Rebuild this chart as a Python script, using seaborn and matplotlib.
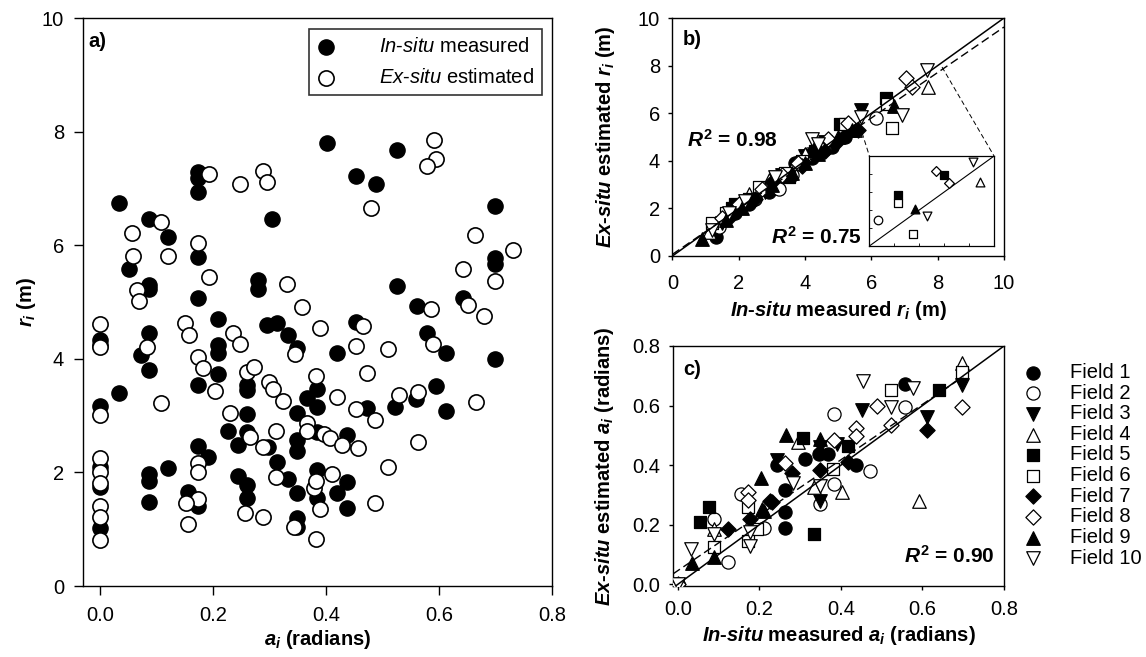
import matplotlib
matplotlib.use('Agg')
import matplotlib.pyplot as plt
import seaborn as sns
import numpy as np

# panel a: in-situ / ex-situ (a_i, r_i)
a_insitu = [0.034, 0.087, 0.121, 0.052, 0.087, 0.087, 0.174, 0.174, 0.174, 0.174, 0.174, 0.209,
            0.305, 0.279, 0.279, 0.401, 0.454, 0.488, 0.296, 0.314, 0.454, 0.525, 0.699, 0.699,
            0.699, 0.525, 0.561, 0.642, 0.579, 0.419, 0.612, 0.699, 0.0, 0.0, 0.0, 0.0, 0.0, 0.0,
            0.034, 0.073, 0.087, 0.087, 0.087, 0.087, 0.087, 0.121, 0.174, 0.174, 0.192, 0.156,
            0.174, 0.209, 0.209, 0.209, 0.261, 0.261, 0.261, 0.261, 0.227, 0.245, 0.245, 0.261,
            0.261, 0.332, 0.348, 0.366, 0.385, 0.385, 0.349, 0.349, 0.349, 0.314, 0.332, 0.385,
            0.349, 0.385, 0.349, 0.349, 0.438, 0.438, 0.419, 0.438, 0.385, 0.472, 0.595, 0.523,
            0.559, 0.612, 0.297]
r_insitu = [6.74, 6.47, 6.14, 5.59, 5.30, 5.23, 7.29, 7.18, 6.93, 5.80, 5.07, 4.70,
            6.46, 5.39, 5.23, 7.80, 7.22, 7.08, 4.60, 4.63, 4.65, 7.68, 6.69, 5.77,
            5.67, 5.28, 4.93, 5.07, 4.45, 4.10, 4.10, 4.00, 4.33, 4.24, 3.17, 2.10, 1.74, 1.02,
            3.40, 4.07, 4.46, 3.80, 1.97, 1.85, 1.48, 2.08, 3.54, 2.46, 2.27, 1.66,
            1.41, 4.24, 4.10, 3.73, 3.54, 3.45, 3.03, 2.71, 2.73, 2.48, 1.94, 1.78,
            1.55, 4.42, 4.19, 3.31, 3.47, 3.15, 3.05, 2.57, 2.38, 2.18, 1.88, 2.04,
            1.64, 1.55, 1.20, 1.04, 2.66, 1.83, 1.64, 1.37, 2.71, 3.13, 3.52, 3.15,
            3.29, 3.08, 2.45]
a_exsitu = [0.0, 0.056, 0.059, 0.065, 0.069, 0.108, 0.120, 0.193, 0.174, 0.193, 0.151, 0.247,
            0.289, 0.296, 0.331, 0.358, 0.479, 0.39, 0.466, 0.591, 0.594, 0.579, 0.664, 0.731,
            0.642, 0.699, 0.586, 0.651, 0.680, 0.454, 0.509, 0.589, 0.0, 0.0, 0.0, 0.0, 0.0,
            0.0, 0.0, 0.0, 0.083, 0.108, 0.158, 0.174, 0.183, 0.204, 0.174, 0.174, 0.174, 0.153,
            0.156, 0.236, 0.247, 0.261, 0.273, 0.231, 0.266, 0.257, 0.289, 0.289, 0.300, 0.306,
            0.324, 0.312, 0.312, 0.367, 0.367, 0.345, 0.383, 0.396, 0.407, 0.379, 0.383, 0.410,
            0.390, 0.343, 0.383, 0.419, 0.428, 0.454, 0.457, 0.473, 0.487, 0.487, 0.529, 0.562,
            0.666, 0.562, 0.509]
r_exsitu = [4.61, 6.21, 5.81, 5.21, 5.02, 6.41, 5.81, 7.25, 6.04, 5.44, 4.63, 7.08,
            7.31, 7.11, 5.31, 4.92, 6.65, 4.54, 4.58, 7.85, 7.52, 7.39, 6.18, 5.92,
            5.58, 5.37, 4.88, 4.95, 4.75, 4.23, 4.17, 4.26, 4.21, 3.01, 2.25, 2.01, 1.81,
            1.41, 1.21, 0.81, 4.21, 3.22, 4.42, 4.03, 3.84, 3.43, 2.17, 2.01, 1.53, 1.46,
            1.09, 4.45, 4.26, 3.77, 3.86, 3.05, 2.63, 1.29, 1.22, 2.45, 3.59, 3.47,
            3.26, 2.73, 1.92, 2.87, 2.73, 4.08, 3.70, 2.68, 2.61, 1.73, 1.85, 1.97,
            1.36, 1.04, 0.83, 3.33, 2.48, 3.12, 2.43, 3.75, 2.92, 1.46, 3.36, 3.41,
            3.24, 2.54, 2.10]

field_labels = ['Field 1', 'Field 2', 'Field 3', 'Field 4', 'Field 5',
                'Field 6', 'Field 7', 'Field 8', 'Field 9', 'Field 10']
field_markers = ['o', 'o', 'v', '^', 's', 's', 'D', 'D', '^', 'v']
field_filled = [True, False, True, False, True, False, True, False, True, False]

# panel b: r_i measured vs estimated, per field
rb_in = [[1.3, 1.9, 2.3, 2.9, 3.1, 3.7, 4.2, 4.5, 4.8, 5.2],
         [1.4, 2.0, 2.5, 3.2, 3.6, 4.1, 4.6, 6.14],
         [1.5, 2.0, 2.8, 3.3, 4.0, 4.6, 5.2, 5.69],
         [1.1, 2.3, 2.9, 3.7, 4.0, 4.5, 5.5, 7.71],
         [1.8, 1.9, 2.3, 3.5, 4.3, 5.04, 6.44],
         [1.2, 1.6, 2.6, 3.4, 3.9, 5.2, 6.47, 6.63],
         [1.7, 2.1, 2.5, 3.0, 3.9, 4.3, 4.6, 4.9, 5.6],
         [1.5, 2.0, 2.7, 3.3, 3.8, 4.7, 5.3, 7.05, 7.23],
         [0.9, 1.6, 2.1, 3.0, 3.6, 4.0, 4.4, 5.0, 5.4, 6.69],
         [1.2, 1.7, 2.2, 3.1, 4.2, 4.4, 5.7, 6.93, 7.68]]
rb_ex = [[0.8, 1.8, 2.2, 2.7, 3.0, 3.9, 4.1, 4.4, 4.6, 5.0],
         [1.2, 2.1, 2.4, 2.8, 3.4, 4.3, 4.5, 5.8],
         [1.4, 2.1, 2.7, 3.4, 4.2, 4.8, 5.4, 6.13],
         [1.0, 2.6, 3.2, 3.9, 4.3, 4.6, 5.3, 7.1],
         [2.0, 2.2, 2.4, 3.3, 4.4, 5.55, 6.63],
         [1.4, 1.8, 2.9, 3.5, 4.0, 5.55, 6.40, 5.38],
         [1.6, 2.1, 2.4, 3.1, 3.8, 4.5, 4.4, 4.7, 5.3],
         [1.6, 2.2, 2.8, 3.4, 3.9, 4.9, 5.6, 7.48, 7.1],
         [0.7, 1.5, 2.0, 3.0, 3.5, 3.9, 4.3, 5.0, 5.3, 6.3],
         [1.1, 1.8, 2.3, 3.3, 4.9, 4.7, 5.85, 5.92, 7.82]]

# inset of panel b (upper values)
ins_field = [2, 5, 6, 9, 10, 6, 8, 5, 8, 10, 4]
ins_in = [5.68, 6.07, 6.08, 6.41, 6.65, 6.37, 6.83, 7.00, 7.09, 7.57, 7.72]
ins_ex = [6.22, 6.92, 6.70, 6.53, 6.33, 5.82, 7.59, 7.47, 7.26, 7.84, 7.28]

# panel c: a_i measured vs estimated, per field
ac_in = [[0.557, 0.312, 0.347, 0.369, 0.243, 0.437, 0.262, 0.262, 0.262, 0.0],
         [0.557, 0.384, 0.47, 0.384, 0.349, 0.155, 0.21, 0.088, 0.123, 0.0],
         [0.698, 0.451, 0.61, 0.349, 0.39, 0.243, 0.349],
         [0.698, 0.295, 0.333, 0.402, 0.592, 0.088, 0.0],
         [0.641, 0.306, 0.418, 0.333, 0.075, 0.055],
         [0.698, 0.523, 0.381, 0.173, 0.194, 0.088, 0.173],
         [0.61, 0.28, 0.349, 0.418, 0.226, 0.176, 0.124, 0.231],
         [0.698, 0.488, 0.437, 0.437, 0.523, 0.384, 0.263, 0.173, 0.173, 0.0],
         [0.266, 0.349, 0.204, 0.206, 0.21, 0.088, 0.035],
         [0.453, 0.577, 0.523, 0.283, 0.349, 0.176, 0.176, 0.088, 0.031, 0.0]]
ac_ex = [[0.674, 0.422, 0.438, 0.436, 0.40, 0.40, 0.317, 0.244, 0.188, 0.0],
         [0.596, 0.571, 0.379, 0.337, 0.27, 0.303, 0.188, 0.219, 0.075, 0.0],
         [0.669, 0.585, 0.562, 0.46, 0.47, 0.416, 0.281],
         [0.742, 0.476, 0.326, 0.311, 0.278, 0.185, 0.0],
         [0.652, 0.491, 0.464, 0.169, 0.259, 0.208],
         [0.714, 0.652, 0.388, 0.258, 0.185, 0.124, 0.144],
         [0.517, 0.374, 0.383, 0.41, 0.278, 0.219, 0.185, 0.276],
         [0.596, 0.599, 0.523, 0.498, 0.534, 0.483, 0.408, 0.309, 0.283, 0.0],
         [0.5, 0.489, 0.356, 0.253, 0.247, 0.09, 0.073],
         [0.682, 0.658, 0.596, 0.34, 0.33, 0.176, 0.127, 0.169, 0.12, 0.0]]

b_fit = (0.955, 0.07)
c_fit = (0.93, 0.046)

sns.set_style('ticks')
plt.rcParams['font.family'] = ['Liberation Sans', 'DejaVu Sans']
plt.rcParams['mathtext.fontset'] = 'custom'
plt.rcParams['mathtext.rm'] = 'Liberation Sans:bold'
plt.rcParams['mathtext.it'] = 'Liberation Sans:italic:bold'
plt.rcParams['mathtext.bf'] = 'Liberation Sans:bold'
plt.rcParams['mathtext.sf'] = 'Liberation Sans:italic'
plt.rcParams['axes.linewidth'] = 1.0
plt.rcParams['text.color'] = 'black'
plt.rcParams['axes.labelcolor'] = 'black'
plt.rcParams['xtick.color'] = 'black'
plt.rcParams['ytick.color'] = 'black'
plt.rcParams['axes.edgecolor'] = 'black'

FS = 14.5
marker_size = {'o': 90, 'v': 95, '^': 95, 's': 75, 'D': 60}


def field_scatter(ax, x, y, i, scale=1.0, label=None):
    m = field_markers[i]
    sns.scatterplot(x=x, y=y, ax=ax, marker=m, s=marker_size[m] * scale,
                    color='black' if field_filled[i] else 'white',
                    edgecolor='black', linewidth=0.9, label=label, zorder=3)


def style_axis(ax, xpad, ypad, length):
    for sp in ax.spines.values():
        sp.set_visible(True)
        sp.set_color('black')
    ax.tick_params(axis='both', direction='out', length=length, width=1, labelsize=FS,
                   color='black', labelcolor='black', top=False, right=False)
    ax.tick_params(axis='x', pad=xpad)
    ax.tick_params(axis='y', pad=ypad)


fig = plt.figure(figsize=(11.46, 6.57), dpi=100)
ax_a = fig.add_axes([0.0724, 0.108, 0.4093, 0.8646])
ax_b = fig.add_axes([0.5868, 0.6104, 0.2893, 0.3622])
ax_c = fig.add_axes([0.5873, 0.108, 0.2888, 0.3654])

# ---- panel a
sns.scatterplot(x=a_insitu, y=r_insitu, ax=ax_a, color='black', edgecolor='black', s=120,
                linewidth=1, label=r'$\mathsf{In}$-$\mathsf{situ}$ measured', zorder=3)
sns.scatterplot(x=a_exsitu, y=r_exsitu, ax=ax_a, color='white', edgecolor='black', s=120,
                linewidth=1.2, label=r'$\mathsf{Ex}$-$\mathsf{situ}$ estimated', zorder=3)
ax_a.set_xlim(-0.03, 0.8)
ax_a.set_ylim(0, 10)
ax_a.set_xticks([0.0, 0.2, 0.4, 0.6, 0.8])
ax_a.set_xticklabels(['0.0', '0.2', '0.4', '0.6', '0.8'])
ax_a.set_yticks([0, 2, 4, 6, 8, 10])
style_axis(ax_a, 8, 7, 6.5)
ax_a.set_xlabel(r'$\mathit{a_i}$ (radians)', fontsize=FS, fontweight='bold', labelpad=2)
ax_a.set_ylabel(r'$\mathit{r_i}$ (m)', fontsize=FS, fontweight='bold', labelpad=3)
ax_a.text(0.012, 0.975, 'a)', transform=ax_a.transAxes, fontsize=FS, fontweight='bold',
          ha='left', va='top')
leg_a = ax_a.legend(loc='upper right', bbox_to_anchor=(0.979, 0.981), borderaxespad=0,
                    fontsize=FS, frameon=True, fancybox=False, edgecolor='black',
                    handletextpad=2.2, labelspacing=0.6, borderpad=0.4, handlelength=0.9)
leg_a.get_frame().set_linewidth(1.2)

# ---- panel b
for i in range(10):
    field_scatter(ax_b, rb_in[i], rb_ex[i], i)
ax_b.axline((0, 0), slope=1, color='black', lw=1.1, zorder=4)
xb = np.array([0, 10])
ax_b.plot(xb, b_fit[1] + b_fit[0] * xb, color='black', lw=1.0, ls=(0, (6, 3)), zorder=4)
ax_b.set_xlim(0, 10)
ax_b.set_ylim(0, 10)
ax_b.set_xticks([0, 2, 4, 6, 8, 10])
ax_b.set_yticks([0, 2, 4, 6, 8, 10])
style_axis(ax_b, 10, 6, 3)
ax_b.set_xlabel(r'$\mathit{In}$-$\mathit{situ}$ measured $\mathit{r_i}$ (m)', fontsize=FS,
                fontweight='bold', labelpad=4)
ax_b.set_ylabel(r'$\mathit{Ex}$-$\mathit{situ}$ estimated $\mathit{r_i}$ (m)', fontsize=FS,
                fontweight='bold', labelpad=15)
ax_b.text(0.03, 0.95, 'b)', transform=ax_b.transAxes, fontsize=FS, fontweight='bold',
          ha='left', va='top')
ax_b.text(0.45, 4.9, r'$\mathit{R}^{2}$ = 0.98', fontsize=15, fontweight='bold', va='center')
ax_b.text(5.7, 0.8, r'$\mathit{R}^{2}$ = 0.75', fontsize=15, fontweight='bold', va='center',
          ha='right')

ins = ax_b.inset_axes([5.94, 0.42, 3.76, 3.78], transform=ax_b.transData)
for j in range(len(ins_field)):
    field_scatter(ins, [ins_in[j]], [ins_ex[j]], ins_field[j] - 1, scale=0.42)
ins.axline((5.5, 5.5), slope=1, color='black', lw=0.8)
ins.set_xlim(5.5, 8.0)
ins.set_ylim(5.5, 8.0)
ins.set_xticks([6.0, 6.5, 7.0, 7.5])
ins.set_yticks([6.0, 6.5, 7.0, 7.5])
ins.tick_params(direction='in', length=2, width=0.6, labelleft=False, labelbottom=False)
for sp in ins.spines.values():
    sp.set_visible(True)
    sp.set_linewidth(0.9)
ins.set_facecolor('white')
ax_b.plot([5.72, 5.94], [5.17, 4.2], color='black', lw=0.7, ls=(0, (5, 3)), zorder=2)
ax_b.plot([8.13, 9.7], [7.94, 4.2], color='black', lw=0.7, ls=(0, (5, 3)), zorder=2)

# ---- panel c
for i in range(10):
    field_scatter(ax_c, ac_in[i], ac_ex[i], i, label=field_labels[i])
ax_c.axline((0, 0), slope=1, color='black', lw=1.1, zorder=4)
xc = np.array([-0.012, 0.7])
ax_c.plot(xc, c_fit[1] + c_fit[0] * xc, color='black', lw=1.0, ls=(0, (6, 3)), zorder=4)
ax_c.set_xlim(-0.012, 0.8)
ax_c.set_ylim(-0.006, 0.8)
ax_c.set_xticks([0.0, 0.2, 0.4, 0.6, 0.8])
ax_c.set_xticklabels(['0.0', '0.2', '0.4', '0.6', '0.8'])
ax_c.set_yticks([0.0, 0.2, 0.4, 0.6, 0.8])
ax_c.set_yticklabels(['0.0', '0.2', '0.4', '0.6', '0.8'])
style_axis(ax_c, 7, 6, 3)
ax_c.set_xlabel(r'$\mathit{In}$-$\mathit{situ}$ measured $\mathit{a_i}$ (radians)', fontsize=FS,
                fontweight='bold', labelpad=4)
ax_c.set_ylabel(r'$\mathit{Ex}$-$\mathit{situ}$ estimated $\mathit{a_i}$ (radians)', fontsize=FS,
                fontweight='bold', labelpad=12)
ax_c.text(0.03, 0.94, 'c)', transform=ax_c.transAxes, fontsize=FS, fontweight='bold',
          ha='left', va='top')
ax_c.text(0.777, 0.094, r'$\mathit{R}^{2}$ = 0.90', fontsize=15, fontweight='bold',
          va='center', ha='right')
ax_c.legend(loc='upper left', bbox_to_anchor=(1018 / 1146, 1 - 363 / 657),
            bbox_transform=fig.transFigure, frameon=False, fontsize=FS, borderaxespad=0,
            borderpad=0, handletextpad=1.1, labelspacing=0.08, handlelength=1.5)

fig.savefig('out.png', dpi=100)
